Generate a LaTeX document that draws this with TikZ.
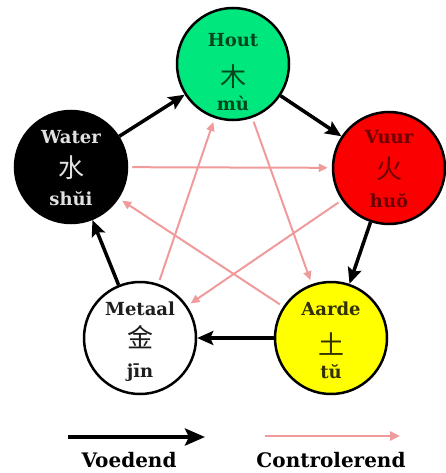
\documentclass[tikz,border=0pt]{standalone}
\usepackage{fontspec}
\setmainfont{DejaVu Serif}
\newfontfamily\cjk{Noto Sans CJK SC}
\usetikzlibrary{arrows.meta}
\definecolor{houtc}{RGB}{0,232,125}
\definecolor{vuurc}{RGB}{250,0,0}
\definecolor{aardec}{RGB}{255,255,0}
\definecolor{pinkc}{RGB}{240,155,155}
\definecolor{houtt}{RGB}{0,70,30}
\definecolor{vuurt}{RGB}{110,0,0}
\definecolor{aardet}{RGB}{50,50,0}
\definecolor{watert}{RGB}{225,225,225}
\definecolor{metaalt}{RGB}{30,30,30}
\begin{document}
\begin{tikzpicture}[x=1pt,y=-1pt,
  elem/.style={circle,draw=black,line width=2.5pt,minimum size=112pt,inner sep=0pt},
  lab/.style={font=\bfseries\fontsize{18}{18}\selectfont,anchor=base,inner sep=0pt},
  han/.style={font=\cjk\fontsize{26}{26}\selectfont,inner sep=0pt},
  leg/.style={font=\bfseries\fontsize{20}{20}\selectfont,anchor=base,inner sep=0pt},
  feed/.style={draw=black,line width=3.5pt,-{Stealth[length=16pt,width=14pt,inset=3pt]}},
  ctrl/.style={draw=pinkc,line width=2pt,-{Triangle[length=9pt,width=8pt]},shorten <=4pt,shorten >=4pt},
]
\useasboundingbox (0,0) rectangle (446,473);
% elements
\node[elem,fill=houtc]  (hout)   at (233,64)  {};
\node[elem,fill=black]  (water)  at (71,167)  {};
\node[elem,fill=vuurc]  (vuur)   at (389,168) {};
\node[elem,fill=white]  (metaal) at (140,338) {};
\node[elem,fill=aardec] (aarde)  at (331,338) {};
% texts
\node[lab,text=houtt] (hout-l) at (233,47) {Hout};
\node[han,text=houtt] (hout-c) at (233,77) {木};
\node[lab,text=houtt] (hout-p) at (233,111) {mù};
\node[lab,text=watert] (water-l) at (71,143) {Water};
\node[han,text=watert] (water-c) at (71,168) {水};
\node[lab,text=watert] (water-p) at (71,205) {shŭi};
\node[lab,text=vuurt] (vuur-l) at (389,144) {Vuur};
\node[han,text=vuurt] (vuur-c) at (389,169) {火};
\node[lab,text=vuurt] (vuur-p) at (389,207) {huŏ};
\node[lab,text=metaalt] (metaal-l) at (140,315) {Metaal};
\node[han,text=metaalt] (metaal-c) at (140,337) {金};
\node[lab,text=metaalt] (metaal-p) at (140,377) {jīn};
\node[lab,text=aardet] (aarde-l) at (331,315) {Aarde};
\node[han,text=aardet] (aarde-c) at (331,344) {土};
\node[lab,text=aardet] (aarde-p) at (331,378) {tŭ};
% controlling (pink)
\draw[ctrl] (water) -- (vuur);
\draw[ctrl] (vuur) -- (metaal);
\draw[ctrl] (metaal) -- (hout);
\draw[ctrl] (hout) -- (aarde);
\draw[ctrl] (aarde) -- (water);
% feeding (black)
\draw[feed] (water) -- (hout);
\draw[feed] (hout) -- (vuur);
\draw[feed] (vuur) -- (aarde);
\draw[feed] (aarde) -- (metaal);
\draw[feed] (metaal) -- (water);
% legend
\coordinate (f1) at (68,437);
\coordinate (f2) at (205,437);
\coordinate (c1) at (265,436);
\coordinate (c2) at (400,436);
\draw[draw=black,line width=4.5pt,-{Stealth[length=20pt,width=17pt,inset=4pt]}] (f1) -- (f2);
\draw[draw=pinkc,line width=2.5pt,-{Triangle[length=10pt,width=9pt]}] (c1) -- (c2);
\node[leg] (voed) at (129,467) {Voedend};
\node[leg] (contr) at (331,467) {Controlerend};
\end{tikzpicture}
\end{document}
